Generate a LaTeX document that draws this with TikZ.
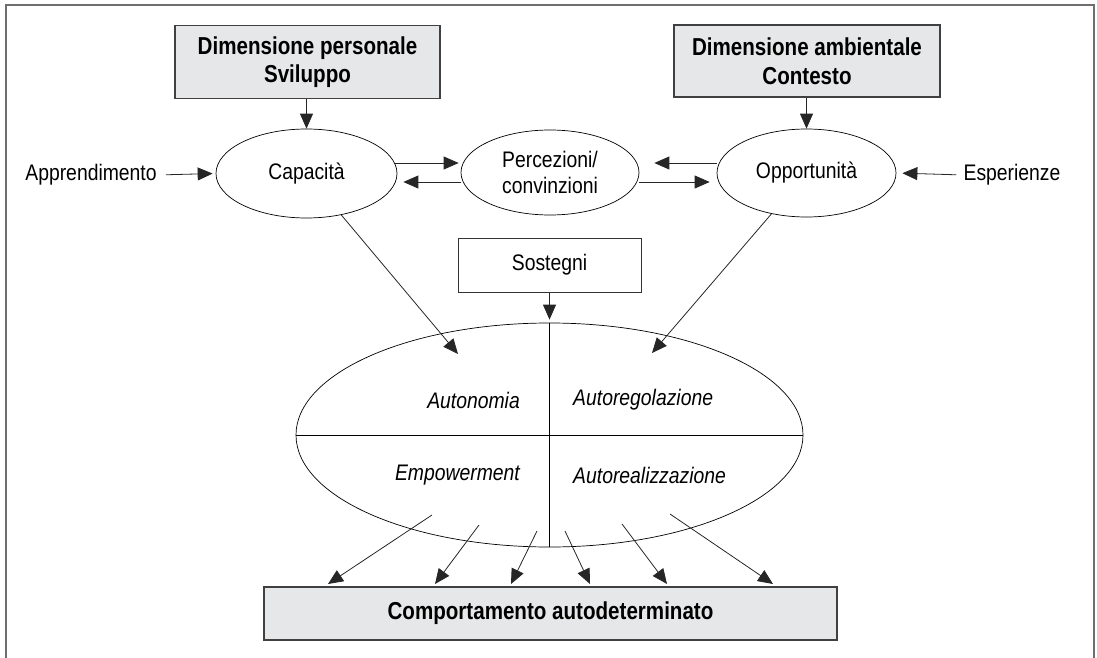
\documentclass[tikz,border=0pt]{standalone}
\usepackage{fontspec}
\setmainfont{Liberation Sans}[FakeStretch=0.86]
\newfontfamily\bfam{Liberation Sans}[FakeStretch=0.84]
\usetikzlibrary{shapes.geometric,arrows.meta}
\definecolor{boxgray}{HTML}{E6E7E8}
\definecolor{framegray}{HTML}{6E6E6E}
\begin{document}
\begin{tikzpicture}[x=1pt,y=-1pt,
  arr/.style={draw=black!85, line width=0.8pt, -{Triangle[length=15pt,width=13pt]}},
  graybox/.style={draw=black!75, line width=1.2pt, fill=boxgray, inner sep=0pt,
    align=center, font=\bfam\bfseries\fontsize{24.5}{28.5}\selectfont},
  whitebox/.style={draw=black!80, line width=1pt, inner sep=0pt,
    font=\fontsize{22.5}{26}\selectfont},
  ell/.style={ellipse, draw=black, line width=0.7pt, inner sep=0pt, align=center,
    font=\fontsize{22.5}{26}\selectfont},
  txt/.style={font=\fontsize{22.5}{26}\selectfont, inner sep=0pt},
  quad/.style={font=\itshape\fontsize{22.5}{26}\selectfont, inner sep=0pt},
  sep/.style={draw=black, line width=0.8pt}
  ]
\useasboundingbox (0,0) rectangle (1097,658);
% frame
\draw[framegray, line width=2pt] (5.5,658) -- (5.5,5) -- (1094,5) -- (1094,658);

% top boxes
\node[graybox, minimum width=265pt, minimum height=73pt] (pers) at (307.5,62)
  {Dimensione personale\\Sviluppo};
\node[graybox, minimum width=266pt, minimum height=72pt] (amb) at (807,61)
  {Dimensione ambientale\\Contesto};

% ellipses
\node[ell, minimum width=181pt, minimum height=89pt] (cap) at (306.5,173.5) {Capacit\`a};
\node[ell, minimum width=178pt, minimum height=85pt] (perc) at (550,172.5) {Percezioni/\\convinzioni};
\node[ell, minimum width=179pt, minimum height=88pt] (opp) at (806.5,173) {Opportunit\`a};

% side texts
\node[txt] (appr) at (91,175) {Apprendimento};
\node[txt] (esp) at (1012,175) {Esperienze};

% Sostegni
\node[whitebox, minimum width=183pt, minimum height=54pt] (sost) at (549.5,265) {Sostegni};

% big ellipse
\node[ellipse, draw=black, line width=0.7pt, minimum width=507pt, minimum height=224pt, inner sep=0pt] (big) at (549.5,435) {};
\draw[sep] (big.west) -- (big.east);
\draw[sep] (big.north) -- (big.south);
\node[quad, anchor=east] (auton) at (520,400) {Autonomia};
\node[quad, anchor=west] (autor) at (573,400) {Autoregolazione};
\node[quad, anchor=east] (empow) at (520,475) {Empowerment};
\node[quad, anchor=west] (autore) at (573,475) {Autorealizzazione};

% bottom box
\node[graybox, minimum width=573pt, minimum height=53pt] (comp) at (550.5,613.5)
  {Comportamento autodeterminato};

% coordinates
\coordinate (tl) at (458,354);
\coordinate (tr) at (652,353);
\coordinate (s1) at (432,515); \coordinate (t1) at (328,584);
\coordinate (s2) at (479,525); \coordinate (t2) at (435,584);
\coordinate (s3) at (537,531); \coordinate (t3) at (511,584);
\coordinate (s4) at (565,531); \coordinate (t4) at (590,584);
\coordinate (s5) at (622,524); \coordinate (t5) at (667,584);
\coordinate (s6) at (670,514); \coordinate (t6) at (773,584);

% arrows
\draw[arr] (pers.south -| cap.north) -- (cap.north);
\draw[arr] (amb.south -| opp.north) -- (opp.north);
\draw[arr, shorten <=9pt, shorten >=3pt] (appr.east) -- (cap.west);
\draw[arr, shorten <=7pt, shorten >=6pt] (esp.west) -- (opp.east);
\draw[arr, shorten <=-2pt, shorten >=2pt] ([yshift=10.5pt]cap.east) -- ([yshift=9.5pt]perc.west);
\draw[arr, shorten >=6pt] ([yshift=-9.5pt]perc.west) -- ([yshift=-8.5pt]cap.east);
\draw[arr, shorten >=15pt] ([yshift=10pt]opp.west) -- ([yshift=9.5pt]perc.east);
\draw[arr, shorten >=7pt] ([yshift=-9.5pt]perc.east) -- ([yshift=-9pt]opp.west);
\draw[arr] (cap) -- (tl);
\draw[arr] (opp) -- (tr);
\draw[arr] (sost.south) -- ([yshift=3pt]big.north);
\foreach \i in {1,...,6} {\draw[arr] (s\i) -- (t\i);}
\end{tikzpicture}
\end{document}
